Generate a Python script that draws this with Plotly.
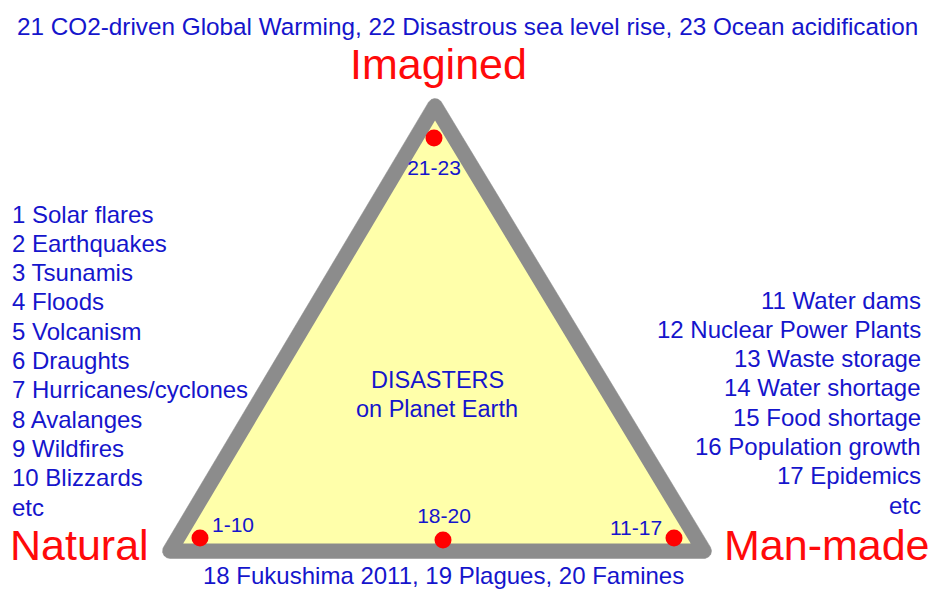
import numpy as np
import plotly.graph_objects as go

W, H = 933, 591

# ---- data ----
natural_items = ["1 Solar flares", "2 Earthquakes", "3 Tsunamis", "4 Floods", "5 Volcanism",
                 "6 Draughts", "7 Hurricanes/cyclones", "8 Avalanges", "9 Wildfires",
                 "10 Blizzards", "etc"]
manmade_items = ["11 Water dams", "12 Nuclear Power Plants", "13 Waste storage",
                 "14 Water shortage", "15 Food shortage", "16 Population growth",
                 "17 Epidemics", "etc"]
imagined_text = "21 CO2-driven Global Warming, 22 Disastrous sea level rise, 23 Ocean acidification"
bottom_text = "18 Fukushima 2011, 19 Plagues, 20 Famines"
center_text = ["DISASTERS", "on Planet Earth"]
corner_names = ["Natural", "Man-made", "Imagined"]
# triangle vertices (diagram units = pixels)
tri_x = [170, 704, 435]
tri_y = [551, 551, 106]
# groups of disasters placed on the diagram
group_labels = ["1-10", "11-17", "21-23", "18-20"]
group_x = [200, 674, 434, 443]
group_y = [538, 538, 138, 540]
label_x = [233, 636, 434, 444]
label_y = [527, 530, 170, 518]

BLUE = "#1515cc"
RED = "#ff0a0a"
FONT = "Liberation Sans, Arial, sans-serif"
HALF = 7.5  # half the border width

V = np.column_stack([tri_x, tri_y]).astype(float)
# outer rounded border (Minkowski sum of triangle and a disc)
th = np.linspace(0, 2 * np.pi, 361)
dirs = np.column_stack([np.cos(th), np.sin(th)])
idx = np.argmax(dirs @ V.T, axis=1)
outer = V[idx] + HALF * dirs
# inner (sharp) triangle
a = np.linalg.norm(V[1] - V[2]); b = np.linalg.norm(V[0] - V[2]); c = np.linalg.norm(V[0] - V[1])
inc = (a * V[0] + b * V[1] + c * V[2]) / (a + b + c)
s = (a + b + c) / 2
area = np.sqrt(s * (s - a) * (s - b) * (s - c))
rin = area / s
inner = inc + (V - inc) * (rin - HALF) / rin
inner = np.vstack([inner, inner[:1]])

fig = go.Figure()
fig.add_trace(go.Scatter(
    x=outer[:, 0], y=outer[:, 1], mode="lines", fill="toself",
    fillcolor="#8c8c8c", line=dict(color="#8c8c8c", width=0.5),
    hoverinfo="skip", showlegend=False))
fig.add_trace(go.Scatter(
    x=inner[:, 0], y=inner[:, 1], mode="lines", fill="toself",
    fillcolor="#ffffaa", line=dict(color="#ffffaa", width=0),
    hoverinfo="skip", showlegend=False))
fig.add_trace(go.Scatter(
    x=group_x, y=group_y, mode="markers",
    marker=dict(color="#ff0000", size=17, line=dict(width=0)),
    hoverinfo="skip", showlegend=False))
fig.add_trace(go.Scatter(
    x=label_x, y=label_y, mode="text", text=group_labels,
    textfont=dict(family=FONT, size=21, color=BLUE),
    hoverinfo="skip", showlegend=False))

ann = []
def t(x, y, s, size, color, xanchor="center"):
    ann.append(dict(x=x, y=y, text=s, showarrow=False, xanchor=xanchor, yanchor="middle",
                    font=dict(family=FONT, size=size, color=color), xref="x", yref="y"))

BS = 24
t(467, 26, imagined_text, 24.3, BLUE)
t(443, 575, bottom_text, BS, BLUE)
t(437, 380, center_text[0], 23.5, BLUE)
t(437, 409, center_text[1], 23.5, BLUE)
for i, s_ in enumerate(natural_items):
    t(10, 214 + i * 29.3, s_, BS, BLUE, "left")
for i, s_ in enumerate(manmade_items):
    t(923, 300 + i * 29.3, s_, BS, BLUE, "right")
t(438, 64, corner_names[2], 43, RED)
t(79, 545, corner_names[0], 43, RED)
t(827, 545, corner_names[1], 43, RED)

fig.update_layout(
    width=W, height=H, margin=dict(l=0, r=0, t=0, b=0),
    paper_bgcolor="white", plot_bgcolor="white",
    xaxis=dict(range=[0, W], visible=False, fixedrange=True),
    yaxis=dict(range=[H, 0], visible=False, fixedrange=True),
    annotations=ann, showlegend=False)
fig.write_html("out.html", config={"displayModeBar": False},
               post_script="document.body.style.margin='0';document.body.style.overflow='hidden';")
